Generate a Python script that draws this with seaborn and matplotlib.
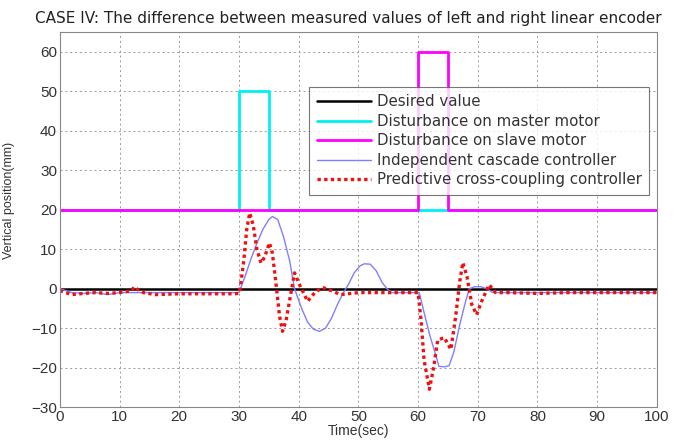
import numpy as np
import pandas as pd
import seaborn as sns
import matplotlib.pyplot as plt

# values
desired_t = [0, 100]
desired_v = [0, 0]

master_t = [0, 30, 30, 35, 35, 100]
master_v = [20, 20, 50, 50, 20, 20]

slave_t = [0, 60, 60, 65, 65, 100]
slave_v = [20, 20, 60, 60, 20, 20]

cascade_t = [0, 1, 2, 4, 6, 8, 10, 13, 16, 20, 25, 29, 30, 31, 32, 33, 34, 35, 35.6,
             36.5, 37.5, 38.5, 39.3, 40.5, 41.5, 42.5, 43.5, 44.5, 45.5, 46.5, 47.5,
             48.3, 49.3, 50.3, 51, 52, 53, 54, 54.8, 55.5, 57, 59, 60.2, 61, 62, 63,
             63.5, 64.5, 65.2, 66, 67, 68, 68.6, 69.5, 70.5, 71.5, 72.5, 75, 80, 85,
             90, 95, 100]
cascade_v = [0, -0.5, -1, -1.2, -1, -1.5, -1, -1, -1, -1, -1, -1, -1, 3, 7.5, 11.5, 15,
             17.5, 18.3, 17.5, 13, 7, 0, -5, -8.5, -10.3, -10.8, -10, -7.5, -4, -1, 1,
             4, 5.8, 6.3, 6.2, 4.5, 1.5, 0, -1, -1, -1, -1, -6, -12, -17, -19.7, -19.8,
             -19.5, -16, -9, -3, 0, 0.5, 0.5, 0, -1, -1, -1, -1, -1, -1, -1]

predictive_t = [0, 1, 2, 4, 6, 8, 10, 12, 12.5, 13, 14, 16, 20, 25, 29, 30, 30.2, 30.8,
                31.3, 31.8, 32.4, 33, 33.7, 34.3, 35.1, 35.6, 36.3, 36.8, 37.3, 37.9,
                38.6, 39.3, 40.3, 41.5, 42.7, 44, 45.5, 47, 50, 55, 60, 60.5, 61, 61.9,
                62.6, 63.3, 64.4, 65.5, 66.3, 67, 67.5, 68.2, 69, 69.8, 70.7, 71.9, 73,
                75, 80, 85, 90, 95, 100]
predictive_v = [-0.5, -1, -1.5, -1.2, -1, -1.2, -1, -0.5, 0.5, -0.2, -1, -1.5, -1.3,
                -1.3, -1.3, -1.2, 0, 7, 15, 19.2, 16, 10, 6.5, 8, 11.6, 9, 0, -7, -10.8,
                -8, -2, 4, 0.5, -3.2, -1, 0.3, -0.5, -1.5, -1, -1, -1, -8, -18, -25.5,
                -20, -13, -12.4, -15.4, -7, 2, 6.6, 3, -4, -6.6, -3, 1, -1, -1, -1.2,
                -1, -1, -1, -1]

sns.set_style("white")
plt.rcParams['font.family'] = ['Liberation Sans', 'DejaVu Sans']

fig = plt.figure(figsize=(6.8, 4.41), dpi=100)
ax = fig.add_axes([0.088, 0.077, 0.878, 0.85])

series = [
    ("Desired value", desired_t, desired_v, dict(color="black", lw=1.8, ls="-")),
    ("Disturbance on master motor", master_t, master_v, dict(color="#00f0f0", lw=2, ls="-")),
    ("Disturbance on slave motor", slave_t, slave_v, dict(color="#ff00ff", lw=2, ls="-")),
    ("Independent cascade controller", cascade_t, cascade_v, dict(color="#7f7fff", lw=1.0, ls="-")),
    ("Predictive cross-coupling controller", predictive_t, predictive_v, dict(color="#ee1111", lw=2.4, ls=(0, (1, 1)))),
]

for name, t, v, st in series:
    df = pd.DataFrame({"t": t, "v": v})
    sns.lineplot(data=df, x="t", y="v", sort=False, estimator=None, ax=ax,
                 color=st["color"], linewidth=st["lw"], linestyle=st["ls"], label=name)

ax.set_xlim(0, 100)
ax.set_ylim(-30, 65)
ax.set_xticks(np.arange(0, 101, 10))
ax.set_yticks(np.arange(-30, 61, 10))
ax.grid(True, color="#999999", linestyle=(0, (2, 3)), linewidth=0.7)
ax.tick_params(direction="in", labelsize=11, length=3, colors="#888888", labelcolor="#333333", pad=2)
for s in ax.spines.values():
    s.set_color("#888888")
ax.set_xlabel("Time(sec)", fontsize=10, labelpad=0, color="#333333")
ax.set_ylabel("Vertical position(mm)", fontsize=9, labelpad=4, color="#333333")
ax.yaxis.set_label_coords(-0.075, 0.55)
fig.text(0.052, 0.958, "CASE IV: The difference between measured values of left and right linear encoder",
         fontsize=11, ha="left", va="center", family="DejaVu Sans", color="#222222")

leg = ax.legend(loc="upper right", bbox_to_anchor=(0.992, 0.862),
                prop={"family": "DejaVu Sans", "size": 10.8},
                frameon=True, fancybox=False, edgecolor="#555555", borderpad=0.5,
                labelspacing=0.3, handlelength=3.6, handletextpad=0.4, borderaxespad=0.2)
leg.get_frame().set_linewidth(0.8)
for txt in leg.get_texts():
    txt.set_color("#333333")

fig.savefig("out.png", dpi=100)
